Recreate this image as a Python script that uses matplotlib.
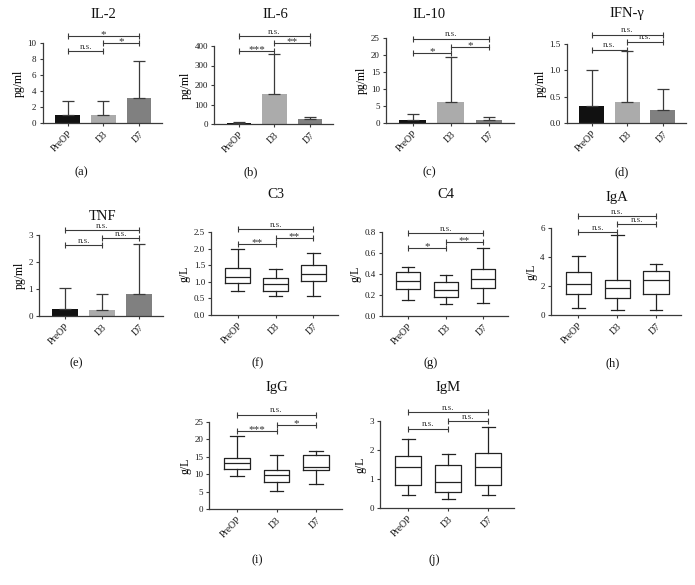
import matplotlib
matplotlib.use('Agg')
import matplotlib.pyplot as plt

plt.rcParams['font.family'] = ['Liberation Serif', 'DejaVu Serif']

W, H = 695, 585
groups = ['PreOP', 'D3', 'D7']
bar_colors = ['#111111', '#ababab', '#808080']
line_col = '#3a3a3a'

# ---- bar panels: mean and top of the error bar
il2_mean = [1.0, 1.0, 3.1]
il2_top = [2.7, 2.8, 7.8]
il6_mean = [6, 155, 24]
il6_top = [11, 357, 35]
il10_mean = [1.0, 6.3, 0.9]
il10_top = [2.6, 19.3, 1.8]
ifng_mean = [0.32, 0.40, 0.25]
ifng_top = [1.01, 1.36, 0.64]
tnf_mean = [0.27, 0.23, 0.80]
tnf_top = [1.05, 0.80, 2.65]

# ---- box panels: (whisker low, q1, median, q3, whisker high)
c3_box = [(0.72, 0.96, 1.14, 1.42, 1.98), (0.57, 0.73, 0.92, 1.12, 1.38), (0.58, 1.01, 1.25, 1.52, 1.86)]
c4_box = [(0.155, 0.26, 0.33, 0.415, 0.47), (0.115, 0.185, 0.25, 0.32, 0.39), (0.12, 0.27, 0.355, 0.445, 0.645)]
iga_box = [(0.5, 1.45, 2.15, 2.95, 4.1), (0.35, 1.2, 1.85, 2.4, 5.5), (0.35, 1.45, 2.4, 3.05, 3.5)]
igg_box = [(9.5, 11.5, 13.1, 14.7, 21.0), (5.3, 7.9, 9.7, 11.1, 15.5), (7.2, 11.2, 12.1, 15.5, 16.8)]
igm_box = [(0.45, 0.78, 1.42, 1.8, 2.37), (0.32, 0.54, 0.9, 1.48, 1.85), (0.45, 0.78, 1.42, 1.9, 2.8)]

# ---- significance brackets: (from, to, height, label)
il2_sig = [(0, 1, 9.0, 'n.s.'), (1, 2, 10.0, '*'), (0, 2, 10.9, '*')]
il6_sig = [(0, 1, 373, '***'), (1, 2, 417, '**'), (0, 2, 449, 'n.s.')]
il10_sig = [(0, 1, 20.6, '*'), (1, 2, 22.4, '*'), (0, 2, 24.8, 'n.s.')]
ifng_sig = [(0, 1, 1.39, 'n.s.'), (1, 2, 1.54, 'n.s.'), (0, 2, 1.68, 'n.s.')]
tnf_sig = [(0, 1, 2.63, 'n.s.'), (1, 2, 2.88, 'n.s.'), (0, 2, 3.17, 'n.s.')]
c3_sig = [(0, 1, 2.13, '**'), (1, 2, 2.32, '**'), (0, 2, 2.58, 'n.s.')]
c4_sig = [(0, 1, 0.643, '*'), (1, 2, 0.70, '**'), (0, 2, 0.79, 'n.s.')]
iga_sig = [(0, 1, 5.72, 'n.s.'), (1, 2, 6.25, 'n.s.'), (0, 2, 6.82, 'n.s.')]
igg_sig = [(0, 1, 22.3, '***'), (1, 2, 24.2, '*'), (0, 2, 27.1, 'n.s.')]
igm_sig = [(0, 1, 2.73, 'n.s.'), (1, 2, 3.0, 'n.s.'), (0, 2, 3.3, 'n.s.')]

fig = plt.figure(figsize=(W / 100, H / 100), dpi=100)


def make_axes(p0, p2, top, bottom):
    # p0/p2: pixel x of first/last category, top/bottom: pixel y of ymax/0
    s = (p2 - p0) / 2.0
    left, right = p0 - 0.7 * s, p2 + 0.65 * s
    ax = fig.add_axes([left / W, 1 - bottom / H, (right - left) / W, (bottom - top) / H])
    for sp in ['top', 'right']:
        ax.spines[sp].set_visible(False)
    for sp in ['left', 'bottom']:
        ax.spines[sp].set_color(line_col)
        ax.spines[sp].set_linewidth(0.9)
    ax.tick_params(colors=line_col, width=0.8, length=2.5, labelcolor='#1a1a1a', pad=2)
    ax.tick_params(axis='y', labelsize=6.5)
    return ax


def finish(ax, ticks, ylab, sig):
    ax.set_xticks(range(3))
    ax.set_xticklabels(groups, rotation=45, ha='right', rotation_mode='anchor', fontsize=7)
    ax.set_xlim(-0.7, 2.65)
    ax.set_ylim(0, ticks[-1])
    ax.set_yticks(ticks)
    ax.set_ylabel(ylab, fontsize=8.5, labelpad=2)
    for i, j, y, lab in sig:
        ax.plot([i, j], [y, y], color=line_col, lw=0.8, marker='|', markersize=4,
                markeredgewidth=0.8, clip_on=False)
        if lab == 'n.s.':
            ax.annotate(lab, xy=((i + j) / 2, y), xytext=(0, 0.3), textcoords='offset points',
                        ha='center', va='bottom', fontsize=6.5, color='#333333', annotation_clip=False)
        else:
            ax.annotate(lab, xy=((i + j) / 2, y), xytext=(0, -2.2), textcoords='offset points',
                        ha='center', va='bottom', fontsize=8, color='#333333', annotation_clip=False)


def bar_panel(pos, mean, top, ticks, ylab, sig):
    ax = make_axes(*pos)
    ax.bar(range(3), mean, width=0.7, color=bar_colors, zorder=2)
    err = [t - m for t, m in zip(top, mean)]
    ax.errorbar(range(3), mean, yerr=[[0, 0, 0], err], fmt='none', ecolor=line_col,
                elinewidth=0.9, capsize=4.5, capthick=0.9, zorder=3)
    finish(ax, ticks, ylab, sig)
    return ax


def box_panel(pos, boxes, ticks, ylab, sig):
    ax = make_axes(*pos)
    stats = [dict(whislo=b[0], q1=b[1], med=b[2], q3=b[3], whishi=b[4], fliers=[]) for b in boxes]
    lp = dict(color='#222222', linewidth=0.9)
    ax.bxp(stats, positions=range(3), widths=0.65, capwidths=0.33, showfliers=False,
           boxprops=lp, whiskerprops=lp, capprops=lp, medianprops=lp)
    finish(ax, ticks, ylab, sig)
    return ax


bar_panel((67.7, 139, 43, 123), il2_mean, il2_top, [0, 2, 4, 6, 8, 10], 'pg/ml', il2_sig)
bar_panel((239, 310, 46, 124), il6_mean, il6_top, [0, 100, 200, 300, 400], 'pg/ml', il6_sig)
bar_panel((412.7, 489, 38, 123), il10_mean, il10_top, [0, 5, 10, 15, 20, 25], 'pg/ml', il10_sig)
ax_d = bar_panel((591.7, 662.7, 44, 123), ifng_mean, ifng_top, [0.0, 0.5, 1.0, 1.5], 'pg/ml', ifng_sig)
ax_d.set_yticklabels(['0.0', '0.5', '1.0', '1.5'])
bar_panel((65, 139, 235, 316), tnf_mean, tnf_top, [0, 1, 2, 3], 'pg/ml', tnf_sig)

ax_f = box_panel((237.7, 313.3, 232, 315), c3_box, [0.0, 0.5, 1.0, 1.5, 2.0, 2.5], 'g/L', c3_sig)
ax_f.set_yticklabels(['0.0', '0.5', '1.0', '1.5', '2.0', '2.5'])
ax_g = box_panel((408.3, 483.3, 232, 316), c4_box, [0.0, 0.2, 0.4, 0.6, 0.8], 'g/L', c4_sig)
ax_g.set_yticklabels(['0.0', '0.2', '0.4', '0.6', '0.8'])
box_panel((578.3, 656, 228, 315), iga_box, [0, 2, 4, 6], 'g/L', iga_sig)
box_panel((237, 316, 422, 509), igg_box, [0, 5, 10, 15, 20, 25], 'g/L', igg_sig)
box_panel((408.3, 488.3, 421, 508), igm_box, [0, 1, 2, 3], 'g/L', igm_sig)

# titles and panel letters (pixel positions)
titles = [('IL-2', 103, 15), ('IL-6', 275, 15), ('IL-10', 429, 15), ('IFN-\u03b3', 627, 14),
          ('TNF', 103, 217), ('C3', 276, 195), ('C4', 446, 195), ('IgA', 617, 197),
          ('IgG', 277, 388), ('IgM', 448, 388)]
for t, x, y in titles:
    fig.text(x / W, 1 - y / H, t, ha='center', va='center', fontsize=10.5, color='#111111')

letters = [('(a)', 81, 172), ('(b)', 251, 172), ('(c)', 429, 172), ('(d)', 622, 172),
           ('(e)', 76, 363), ('(f)', 258, 363), ('(g)', 431, 363), ('(h)', 613, 363),
           ('(i)', 257, 560), ('(j)', 434, 560)]
for t, x, y in letters:
    fig.text(x / W, 1 - y / H, t, ha='center', va='center', fontsize=9, color='#111111')

fig.savefig('out.png', dpi=100, facecolor='white')
